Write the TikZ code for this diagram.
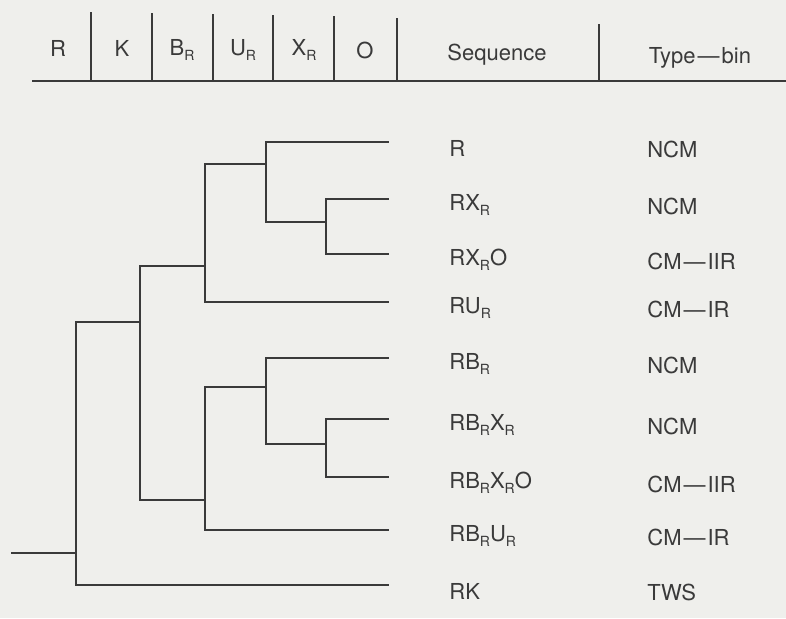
\documentclass[tikz,border=0pt]{standalone}
\usepackage{fontspec}
\setmainfont{TeX Gyre Heros}
\usetikzlibrary{positioning}
\definecolor{cfondo}{HTML}{EFEFEC}
\definecolor{clinea}{HTML}{3A3A3A}
\newcommand{\subR}{\raisebox{-0.45ex}{\fontsize{7}{8}\selectfont R}}
\newcommand{\guion}{\kern1pt---\kern1pt}
\tikzset{
  rama/.style={draw=clinea,line width=0.8pt},
  cab/.style={font=\fontsize{11}{13}\selectfont,text=clinea,inner sep=1pt},
  sec/.style={cab,anchor=west},
}

\begin{document}
\begin{tikzpicture}[x=0.5pt,y=-0.5pt]
\fill[cfondo] (0,0) rectangle (786,618);
\useasboundingbox (0,0) rectangle (786,618);

% cabecera
\coordinate (hl) at (32,81);
\coordinate (hr) at (786,81);
\draw[rama] (hl) -- (hr);
\foreach \x/\t in {91/12,152/13,213/14,273/15,334/16,397/18,599/24}{\draw[rama] (\x,\t) -- (\x,81);}
\node[cab] (hR) at (58,48) {R};
\node[cab] (hK) at (122,48) {K};
\node[cab] (hB) at (182,50) {B\subR};
\node[cab] (hU) at (243,50) {U\subR};
\node[cab] (hX) at (304,50) {X\subR};
\node[cab] (hO) at (365,50) {O};
\node[cab] (hS) at (497,55) {Sequence};
\node[cab] (hT) at (700,58) {Type\guion bin};

% ramas
\coordinate (ent) at (11,553);
\coordinate (a0) at (76,553);
\coordinate (a1) at (140,322);
\coordinate (a2) at (205,266);
\coordinate (a3) at (205,500);
\coordinate (a4) at (266,164);
\coordinate (a5) at (326,222);
\coordinate (a6) at (266,387);
\coordinate (a7) at (326,444);

% secuencias
\foreach \n/\y/\s/\b in {1/142/R/NCM,2/199/RX\subR/NCM,3/254/RX\subR O/CM\guion IIR,
  4/302/RU\subR/CM\guion IR,5/358/RB\subR/NCM,6/419/RB\subR X\subR/NCM,
  7/477/RB\subR X\subR O/CM\guion IIR,8/530/RB\subR U\subR/CM\guion IR,9/585/RK/TWS}{
  \coordinate (f\n) at (389,\y);
  \node[sec] (s\n) at (447,\y+6) {\s};
  \node[sec] (b\n) at (645,\y+7) {\b};
}

\draw[rama] (ent) -- (a0);
\draw[rama] (a0) |- (a1);
\draw[rama] (a0) |- (f9);
\draw[rama] (a1) |- (a2);
\draw[rama] (a1) |- (a3);
\draw[rama] (a2) |- (a4);
\draw[rama] (a2) |- (f4);
\draw[rama] (a4) |- (f1);
\draw[rama] (a4) |- (a5);
\draw[rama] (a5) |- (f2);
\draw[rama] (a5) |- (f3);
\draw[rama] (a3) |- (a6);
\draw[rama] (a3) |- (f8);
\draw[rama] (a6) |- (f5);
\draw[rama] (a6) |- (a7);
\draw[rama] (a7) |- (f6);
\draw[rama] (a7) |- (f7);

\end{tikzpicture}
\end{document}
